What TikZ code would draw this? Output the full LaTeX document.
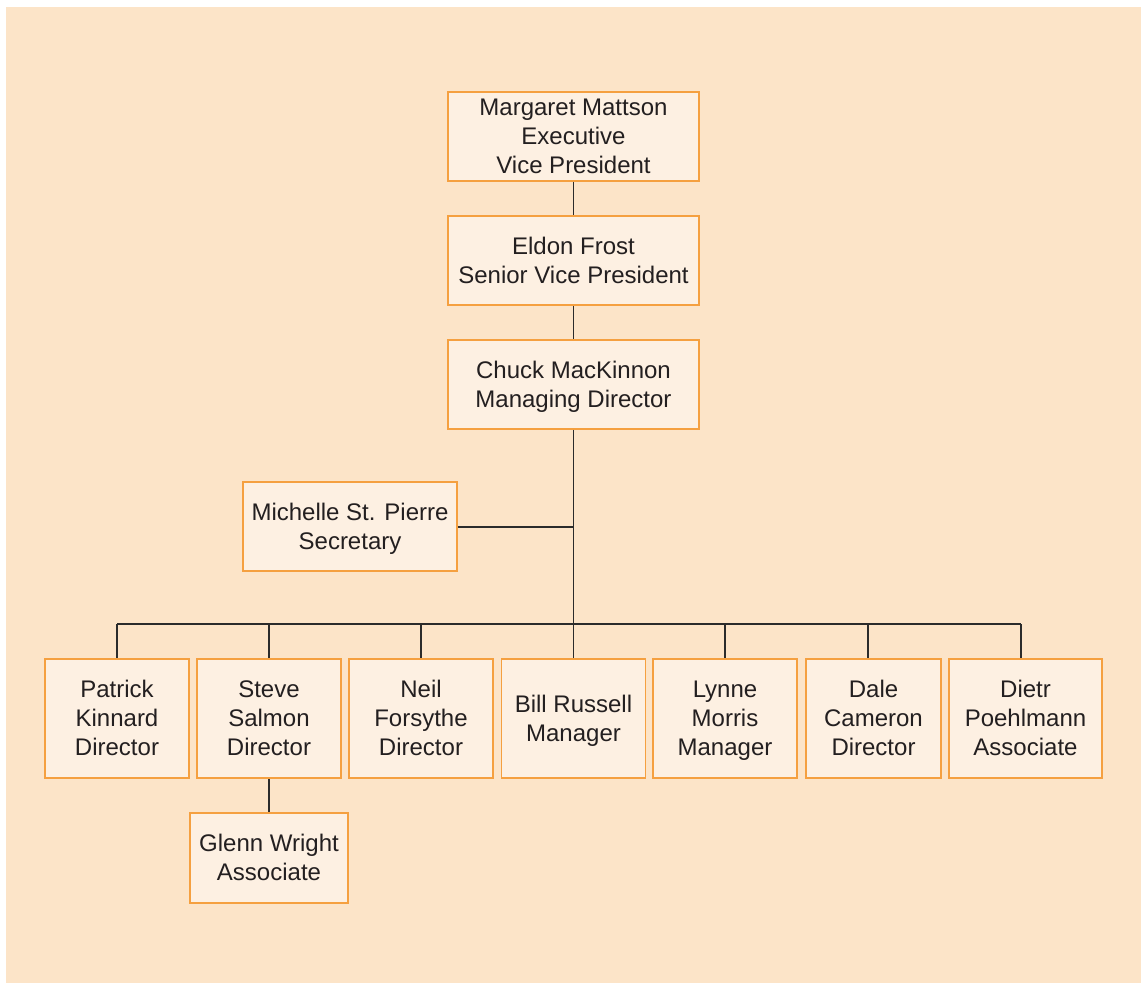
\documentclass[tikz,border=0pt]{standalone}
\usepackage{fontspec}
\setmainfont{Liberation Sans}
\definecolor{bgpeach}{HTML}{FCE4C8}
\definecolor{boxfill}{HTML}{FDF0E2}
\definecolor{boxline}{HTML}{F5A040}
\definecolor{txt}{HTML}{231F20}
\definecolor{conn}{HTML}{2B2B2B}
\newcommand{\tstr}{\rule{0pt}{22.8pt}}
\newcommand{\bstr}{\rule[-6.2pt]{0pt}{6.2pt}}
\begin{document}
\begin{tikzpicture}[x=1pt,y=-1pt,
  person/.style={draw=boxline, line width=1.6pt, fill=boxfill, text=txt,
    align=center, inner sep=0pt, font=\fontsize{24}{29}\selectfont},
  link/.style={draw=conn, line width=1.3pt}]
\useasboundingbox (0,0) rectangle (1141,983);
\fill[white] (0,0) rectangle (1141,983);
\fill[bgpeach] (6,7) rectangle (1141,983);

\node[person, minimum width=251pt, minimum height=89pt] (mm) at (573.5,136.5) {\tstr Margaret Mattson\\Executive\\\bstr Vice President};
\node[person, minimum width=251pt, minimum height=89pt] (ef) at (573.5,260.5) {\tstr Eldon Frost\\\bstr Senior Vice President};
\node[person, minimum width=251pt, minimum height=89pt] (cm) at (573.5,384.5) {\tstr Chuck MacKinnon\\\bstr Managing Director};
\node[person, minimum width=214pt, minimum height=89pt] (msp) at (350,526.5) {\tstr Michelle St. Pierre\\\bstr Secretary};

\node[person, minimum width=144pt, minimum height=119pt] (pk) at (117,718.5) {\tstr Patrick\\Kinnard\\\bstr Director};
\node[person, minimum width=144pt, minimum height=119pt] (ss) at (269,718.5) {\tstr Steve\\Salmon\\\bstr Director};
\node[person, minimum width=144pt, minimum height=119pt] (nf) at (421,718.5) {\tstr Neil\\Forsythe\\\bstr Director};
\node[person, minimum width=144pt, minimum height=119pt] (br) at (573.5,718.5) {\tstr Bill Russell\\\bstr Manager};
\node[person, minimum width=144pt, minimum height=119pt] (lm) at (725,718.5) {\tstr Lynne\\Morris\\\bstr Manager};
\node[person, minimum width=135pt, minimum height=119pt] (dc) at (873.5,718.5) {\tstr Dale\\Cameron\\\bstr Director};
\node[person, minimum width=153pt, minimum height=119pt] (dp) at (1025.5,718.5) {\tstr Dietr\\Poehlmann\\\bstr Associate};
\node[person, minimum width=158pt, minimum height=90pt] (gw) at (269,858) {\tstr Glenn Wright\\\bstr Associate};

\coordinate (sec) at (573.5,527);
\coordinate (bus) at (573.5,624);
\coordinate (b1) at (117,624);
\coordinate (b2) at (269,624);
\coordinate (b3) at (421,624);
\coordinate (b5) at (725,624);
\coordinate (b6) at (868,624);
\coordinate (b7) at (1021,624);

\draw[link] (mm) -- (ef);
\draw[link] (ef) -- (cm);
\draw[link] (cm) -- (bus);
\draw[link] (msp.east |- sec) -- (sec);
\draw[link] (b1) -- (b7);
\draw[link] (b1) -- (pk.north);
\draw[link] (b2) -- (ss.north);
\draw[link] (b3) -- (nf.north);
\draw[link] (bus) -- (br.north);
\draw[link] (b5) -- (lm.north);
\draw[link] (b6) -- (b6 |- dc.north);
\draw[link] (b7) -- (b7 |- dp.north);
\draw[link] (ss) -- (gw);
\end{tikzpicture}
\end{document}
